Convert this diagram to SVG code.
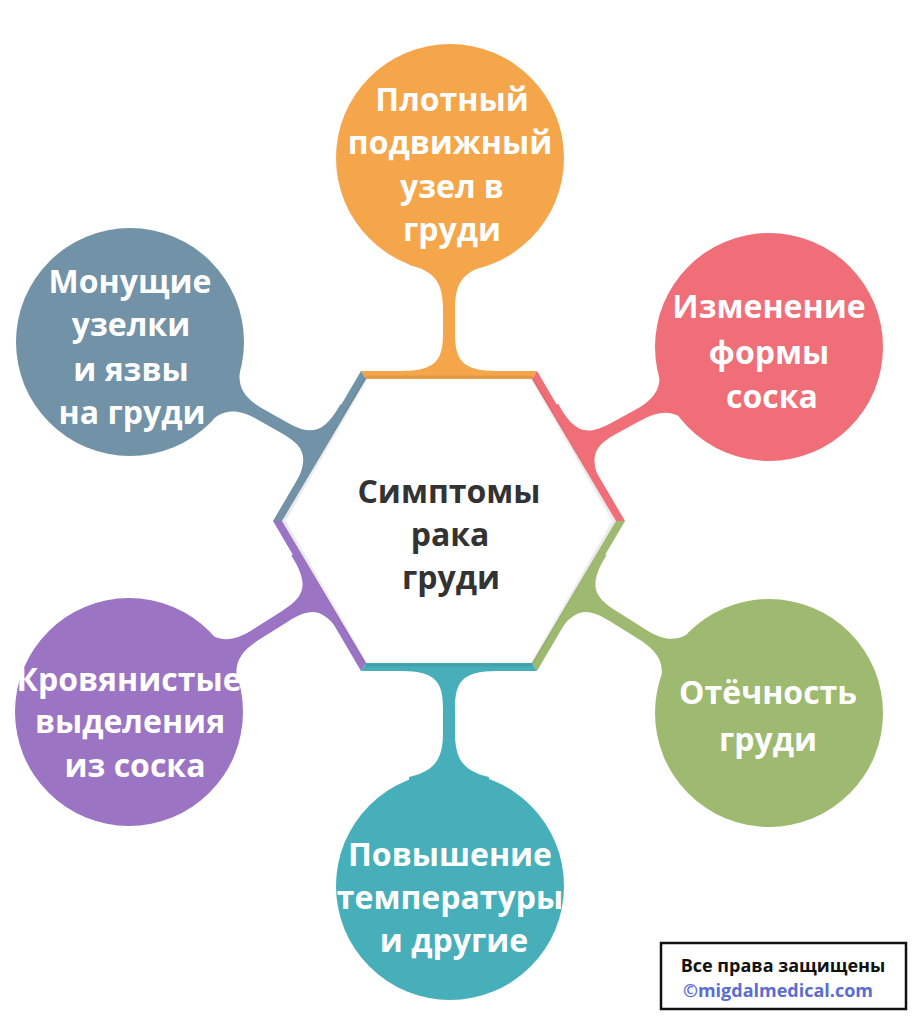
<svg xmlns="http://www.w3.org/2000/svg" width="914" height="1024" viewBox="0 0 914 1024">
<style>
.t{font-family:"Open Sans","Liberation Sans",sans-serif;font-weight:bold;font-size:32px;fill:#ffffff;text-anchor:middle}
.c{fill:#333333}
.or{fill:#F5A64B}.pk{fill:#EF6E77}.gr{fill:#9EBA71}.tl{fill:#47AFBA}.pu{fill:#9B74C4}.bl{fill:#7192A7}
.sh{fill:none;stroke:#000;stroke-opacity:0.08;stroke-width:3}
.cp{font-family:"Open Sans","Liberation Sans",sans-serif;font-weight:bold;font-size:18px;text-anchor:middle}
</style>
<rect width="914" height="1024" fill="#ffffff"/>
<g id="connectors">
<path class="or" transform="translate(449,371)" d="M -48,4 L -48,0 C -12,0 -6,-12 -6,-38 L -6,-62 C -6,-88 -14,-100 -40,-106 L -40,-120 L 40,-120 L 40,-106 C 14,-100 6,-88 6,-62 L 6,-38 C 6,-12 12,0 48,0 L 48,4 Z"/>
<path class="tl" transform="translate(449,671) rotate(180)" d="M -48,4 L -48,0 C -12,0 -6,-12 -6,-38 L -6,-62 C -6,-88 -14,-100 -40,-106 L -40,-120 L 40,-120 L 40,-106 C 14,-100 6,-88 6,-62 L 6,-38 C 6,-12 12,0 48,0 L 48,4 Z"/>
<path class="pk" transform="translate(581,446) rotate(61.6)" d="M -48,4 L -48,0 C -12,0 -6,-12 -6,-38 L -6,-64 C -6,-90 -14,-102 -40,-108 L -40,-122 L 40,-122 L 40,-108 C 14,-102 6,-90 6,-64 L 6,-38 C 6,-12 12,0 48,0 L 48,4 Z"/>
<path class="bl" transform="translate(317,446) rotate(-60.7)" d="M -48,4 L -48,0 C -12,0 -6,-12 -6,-38 L -6,-64 C -6,-90 -14,-102 -40,-108 L -40,-122 L 40,-122 L 40,-108 C 14,-102 6,-90 6,-64 L 6,-38 C 6,-12 12,0 48,0 L 48,4 Z"/>
<path class="gr" transform="translate(581,596) rotate(122.1)" d="M -48,4 L -48,0 C -12,0 -6,-12 -6,-38 L -6,-72 C -6,-98 -14,-110 -40,-116 L -40,-130 L 40,-130 L 40,-116 C 14,-110 6,-98 6,-72 L 6,-38 C 6,-12 12,0 48,0 L 48,4 Z"/>
<path class="pu" transform="translate(317,596) rotate(-122.3)" d="M -48,4 L -48,0 C -12,0 -6,-12 -6,-38 L -6,-72 C -6,-98 -14,-110 -40,-116 L -40,-130 L 40,-130 L 40,-116 C 14,-110 6,-98 6,-72 L 6,-38 C 6,-12 12,0 48,0 L 48,4 Z"/>
</g>
<g id="hexagon">
<polygon class="or" points="361,371 537,371 532,379 366,379"/>
<polygon class="pk" points="537,371 625,521 616,521 532,379"/>
<polygon class="gr" points="625,521 537,671 532,663 616,521"/>
<polygon class="tl" points="537,671 361,671 366,663 532,663"/>
<polygon class="pu" points="361,671 273,521 282,521 366,663"/>
<polygon class="bl" points="273,521 361,371 366,379 282,521"/>
<polygon class="sh" points="367,377 531,377 614,521 531,665 367,665 284,521"/>
<text class="t c" x="449" y="503">Симптомы</text>
<text class="t c" x="450" y="546">рака</text>
<text class="t c" x="451" y="589">груди</text>
</g>
<g id="node-top">
<circle class="or" cx="450" cy="158" r="114"/>
<text class="t" x="452" y="111">Плотный</text>
<text class="t" x="450" y="154">подвижный</text>
<text class="t" x="452" y="198">узел в</text>
<text class="t" x="452" y="241">груди</text>
</g>
<g id="node-upper-right">
<circle class="pk" cx="769" cy="347" r="114"/>
<text class="t" x="769" y="318">Изменение</text>
<text class="t" x="769" y="364">формы</text>
<text class="t" x="772" y="408">соска</text>
</g>
<g id="node-lower-right">
<circle class="gr" cx="769" cy="713" r="114"/>
<text class="t" x="768" y="704">Отёчность</text>
<text class="t" x="768" y="751">груди</text>
</g>
<g id="node-bottom">
<circle class="tl" cx="450" cy="886" r="114"/>
<text class="t" x="450" y="866">Повышение</text>
<text class="t" x="450" y="909">температуры</text>
<text class="t" x="454" y="952">и другие</text>
</g>
<g id="node-lower-left">
<circle class="pu" cx="129" cy="712" r="114"/>
<text class="t" x="129" y="691">Кровянистые</text>
<text class="t" x="130" y="733">выделения</text>
<text class="t" x="135" y="777">из соска</text>
</g>
<g id="node-upper-left">
<circle class="bl" cx="130" cy="342" r="114"/>
<text class="t" x="130" y="293">Монущие</text>
<text class="t" x="131" y="336">узелки</text>
<text class="t" x="131" y="381">и язвы</text>
<text class="t" x="132" y="424">на груди</text>
</g>
<g id="copyright">
<rect x="661" y="943" width="245" height="66" fill="#ffffff" stroke="#111111" stroke-width="2.5"/>
<text class="cp" x="783" y="972" fill="#111111">Все права защищены</text>
<text class="cp" x="778" y="997" fill="#5B6DCF">©migdalmedical.com</text>
</g>
</svg>
